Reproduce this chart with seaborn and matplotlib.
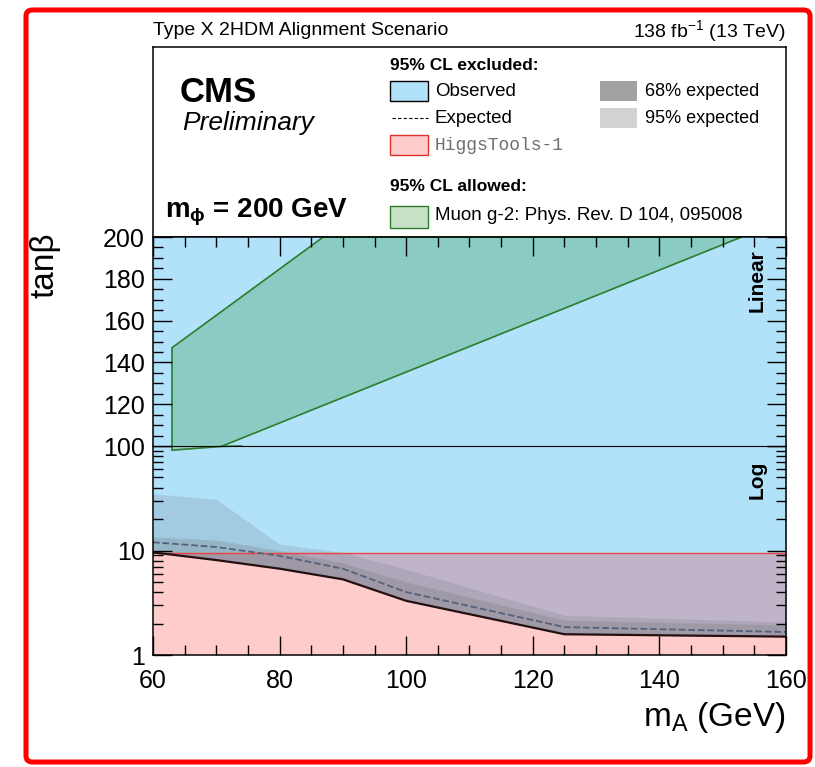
import numpy as np
import seaborn as sns
import matplotlib.pyplot as plt
from matplotlib.patches import Rectangle, FancyBboxPatch
from matplotlib.lines import Line2D
from matplotlib.ticker import MultipleLocator, LogLocator, NullFormatter, FuncFormatter

# values
mA = [60, 70, 80, 90, 100, 125, 160]
obs_tanb = [9.6, 8.1, 6.7, 5.3, 3.3, 1.58, 1.5]
exp_tanb = [12.0, 10.8, 8.9, 6.7, 4.0, 1.85, 1.66]
exp68_up = [13.5, 12.6, 10.0, 7.6, 5.0, 2.15, 1.94]
exp95_up = [35.0, 31.0, 11.5, 9.6, 6.6, 2.4, 2.07]

higgs_x = [60, 160]
higgs_y = [9.4, 9.4]

g2_x = [63.0, 63.0, 86.9, 153.0, 70.8]
g2_y = [98.0, 147.0, 200.0, 200.0, 99.8]
g2_tail_x = [70.8, 74.0]
g2_tail_y = [99.8, 100.0]

lin_ticks = [100, 120, 140, 160, 180, 200]
x_ticks = [60, 80, 100, 120, 140, 160]

blue = '#b1e2fa'
green_edge = '#2c7d2c'

sns.set_theme(style='ticks')
plt.rcParams['font.family'] = ['Liberation Sans', 'DejaVu Sans']
plt.rcParams['mathtext.fontset'] = 'custom'
plt.rcParams['mathtext.rm'] = 'Liberation Sans'
plt.rcParams['mathtext.it'] = 'Liberation Sans:italic'
plt.rcParams['mathtext.bf'] = 'Liberation Sans:bold'
plt.rcParams['axes.axisbelow'] = False
plt.rcParams['text.color'] = 'black'
plt.rcParams['xtick.labelcolor'] = 'black'
plt.rcParams['ytick.labelcolor'] = 'black'

fig = plt.figure(figsize=(8.15, 7.67), dpi=100)
ax_leg = fig.add_axes([0.1877, 0.691, 0.7767, 0.2477])
ax_lin = fig.add_axes([0.1877, 0.4185, 0.7767, 0.2725])
ax_log = fig.add_axes([0.1877, 0.1460, 0.7767, 0.2725])
ax_lin.set_zorder(3)
ax_lin.patch.set_alpha(0)

for ax in (ax_leg, ax_lin, ax_log):
    ax.set_axisbelow(False)
    for s in ax.spines.values():
        s.set_linewidth(1.1)
        s.set_color('black')
        s.set_visible(True)
ax_lin.spines['bottom'].set_linewidth(0.8)
ax_log.spines['top'].set_visible(False)

# linear part (100-200)
ax_lin.fill_between(x_ticks, lin_ticks[0], lin_ticks[-1], color=blue, lw=0)
ax_lin.fill(g2_x, g2_y, facecolor=(0, 0.5, 0, 0.22), edgecolor=green_edge, lw=1.2, clip_on=False)
ax_lin.plot(g2_tail_x, g2_tail_y, color=green_edge, lw=1.2, clip_on=False)
ax_lin.set_xlim(60, 160)
ax_lin.set_ylim(100, 200)
ax_lin.yaxis.set_major_locator(MultipleLocator(20))
ax_lin.yaxis.set_minor_locator(MultipleLocator(5))
ax_lin.xaxis.set_major_locator(MultipleLocator(20))
ax_lin.xaxis.set_minor_locator(MultipleLocator(5))
ax_lin.tick_params(which='both', direction='in', top=True, bottom=False, right=True,
                   labelbottom=False, width=1, color='black', labelcolor='black')
ax_lin.tick_params(which='major', length=14, labelsize=18, pad=6)
ax_lin.tick_params(which='minor', length=7)
ax_lin.text(0.954, 0.79, 'Linear', transform=ax_lin.transAxes, rotation=90,
            ha='center', va='center', fontsize=15, fontweight='bold')

# log part (1-100)
ax_log.fill_between(mA, obs_tanb, 100, color=blue, lw=0)
ax_log.fill_between(higgs_x, 1, higgs_y, color='red', alpha=0.2, lw=0)
ax_log.plot(higgs_x, higgs_y, color='#f04040', lw=1)
ax_log.fill_between(mA, obs_tanb, exp95_up, color='#6a7080', alpha=0.2, lw=0)
ax_log.fill_between(mA, obs_tanb, exp68_up, color='#6a6a6a', alpha=0.22, lw=0)
sns.lineplot(x=mA, y=exp_tanb, ax=ax_log, color='#55607a', linestyle='--', lw=1.3, dashes=(4, 3))
sns.lineplot(x=mA, y=obs_tanb, ax=ax_log, color='#241010', lw=1.6)
ax_log.set_yscale('log')
ax_log.set_xlim(60, 160)
ax_log.set_ylim(1, 100)
ax_log.yaxis.set_major_locator(LogLocator(base=10))
ax_log.yaxis.set_minor_locator(LogLocator(base=10, subs=np.arange(2, 10)))
ax_log.yaxis.set_minor_formatter(NullFormatter())
ax_log.yaxis.set_major_formatter(FuncFormatter(lambda v, p: '' if v >= 100 else f'{v:g}'))
ax_log.set_xticks(x_ticks)
ax_log.xaxis.set_minor_locator(MultipleLocator(5))
ax_log.tick_params(which='both', direction='in', top=False, right=True, width=1,
                   color='black', labelcolor='black')
ax_log.tick_params(which='major', length=14, labelsize=18, pad=6)
ax_log.tick_params(axis='x', which='major', pad=10)
ax_log.tick_params(which='minor', length=7)
ax_log.text(0.954, 0.837, 'Log', transform=ax_log.transAxes, rotation=90,
            ha='center', va='center', fontsize=15, fontweight='bold')

# legend box
ax_leg.set_xlim(0, 1)
ax_leg.set_ylim(0, 1)
ax_leg.set_xticks([])
ax_leg.set_yticks([])
T = ax_leg.transAxes
ax_leg.text(0.0, 1.085, 'Type X 2HDM Alignment Scenario', transform=T, fontsize=14, va='center')
ax_leg.text(1.0, 1.085, r'138 fb$^{-1}$ (13 TeV)', transform=T, fontsize=14, va='center', ha='right')
ax_leg.text(0.042, 0.763, 'CMS', transform=T, fontsize=25, fontweight='bold', va='center')
ax_leg.text(0.046, 0.60, 'Preliminary', transform=T, fontsize=19, style='italic', va='center')
ax_leg.text(0.019, 0.13, r'$\mathbf{m_{\phi}}$ = 200 GeV', transform=T, fontsize=20,
            fontweight='bold', va='center')

ax_leg.text(0.3744, 0.905, '95% CL excluded:', transform=T, fontsize=12.5, fontweight='bold', va='center')
ax_leg.add_patch(Rectangle((0.3744, 0.716), 0.060, 0.105, transform=T, facecolor=blue, edgecolor='black', lw=1))
ax_leg.text(0.4455, 0.768, 'Observed', transform=T, fontsize=13.5, va='center')
ax_leg.add_line(Line2D([0.377, 0.434], [0.626, 0.626], transform=T, color='black', ls='--', lw=0.8, dashes=(3, 2)))
ax_leg.text(0.4455, 0.626, 'Expected', transform=T, fontsize=13.5, va='center')
ax_leg.add_patch(Rectangle((0.3744, 0.432), 0.060, 0.105, transform=T, facecolor='#ffcccc', edgecolor='#e03030', lw=1))
ax_leg.text(0.4455, 0.479, 'HiggsTools-1', transform=T, fontsize=13, va='center',
            family='Liberation Mono', color='#707070')
ax_leg.add_patch(Rectangle((0.706, 0.716), 0.058, 0.105, transform=T, facecolor='#a2a2a2', lw=0))
ax_leg.text(0.777, 0.768, '68% expected', transform=T, fontsize=13, va='center')
ax_leg.add_patch(Rectangle((0.706, 0.574), 0.058, 0.105, transform=T, facecolor='#d2d2d2', lw=0))
ax_leg.text(0.777, 0.626, '95% expected', transform=T, fontsize=13, va='center')
ax_leg.text(0.3744, 0.268, '95% CL allowed:', transform=T, fontsize=12.5, fontweight='bold', va='center')
ax_leg.add_patch(Rectangle((0.3744, 0.047), 0.060, 0.116, transform=T, facecolor='#c8e2c8', edgecolor=green_edge, lw=1))
ax_leg.text(0.4455, 0.111, 'Muon g-2: Phys. Rev. D 104, 095008', transform=T, fontsize=13.5, va='center')

# axis titles
fig.text(0.055, 0.6545, 'tanβ', rotation=90, fontsize=24, ha='center', va='center')
fig.text(0.9644, 0.064, r'$\mathrm{m_{A}}$ (GeV)', fontsize=24, ha='right', va='center')

# red frame around the figure
fig.patches.append(FancyBboxPatch((0.0319, 0.0065), 0.962, 0.9805,
                                  boxstyle='round,pad=0,rounding_size=0.008',
                                  transform=fig.transFigure, fill=False,
                                  edgecolor='red', lw=3.6))

fig.savefig('out.png', dpi=100)
